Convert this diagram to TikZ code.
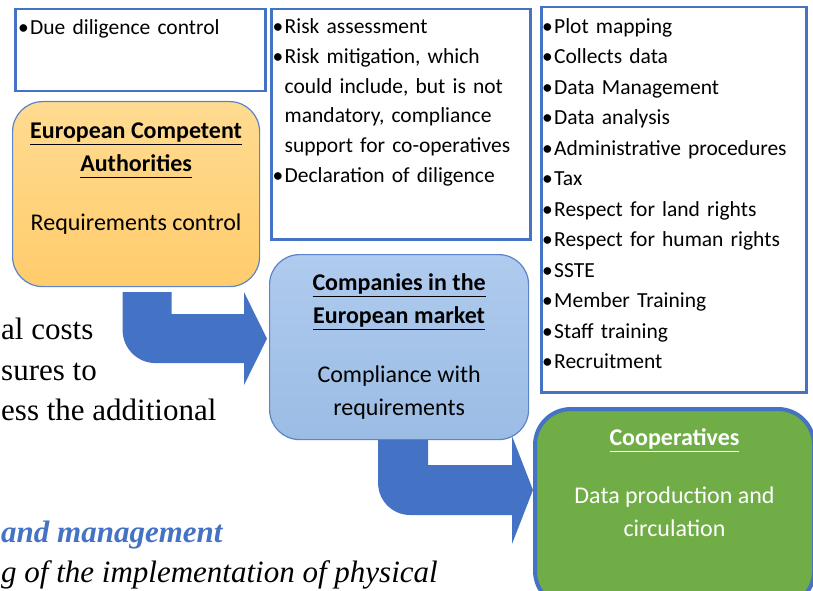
\documentclass[tikz,border=0pt]{standalone}
\usepackage{fontspec}
\setmainfont{Carlito}
\newfontfamily\bgfont{Liberation Serif}
\usepackage{tikz}
\usetikzlibrary{calc,positioning,backgrounds}
\definecolor{accblue}{HTML}{4472C4}
\definecolor{edgeblue}{HTML}{5B85C8}
\definecolor{goldtop}{HTML}{FFDB91}
\definecolor{goldbot}{HTML}{FFCC6C}
\definecolor{skytop}{HTML}{AFCBEE}
\definecolor{skybot}{HTML}{9BBCE4}
\definecolor{leafgreen}{HTML}{70AD47}
\newcommand{\bitem}[1]{\par\hangindent=12pt\hangafter=1\noindent\strut\makebox[12pt][l]{\textbullet}#1}
\newcommand{\uhead}[1]{\setbox0\hbox{\textbf{#1}}\rlap{\rule[-7pt]{\wd0}{1.7pt}}\box0}
% bent block arrow: shaft top, tip, half shaft, half head, head length, corner
\newcommand{\bentarrow}[6]{%
 \fill[bigarrow] let \p1=(#1), \p2=(#2) in
  (\x1-#3pt,\y1) -- (\x1-#3pt,\y2-#3pt+#6pt)
  .. controls (\x1-#3pt,\y2-#3pt+0.448*#6pt) and (\x1-#3pt+0.448*#6pt,\y2-#3pt) .. (\x1-#3pt+#6pt,\y2-#3pt)
  -- (\x2-#5pt,\y2-#3pt) -- (\x2-#5pt,\y2-#4pt) -- (\x2,\y2) -- (\x2-#5pt,\y2+#4pt)
  -- (\x2-#5pt,\y2+#3pt) -- (\x1+#3pt,\y2+#3pt) -- (\x1+#3pt,\y1) -- cycle;}
\begin{document}
\begin{tikzpicture}[x=1pt,y=-1pt,
listbox/.style={draw=accblue,line width=2.5pt,anchor=north west,inner sep=0pt},
roundbox/.style={rounded corners=30pt,anchor=north west,inner sep=0pt},
listtext/.style={anchor=north west,inner sep=0pt,align=left,font=\fontsize{21.5}{30.5}\selectfont},
boxtext/.style={anchor=north,inner sep=0pt,align=center,font=\fontsize{24}{33}\selectfont},
bgtext/.style={inner sep=0pt,anchor=base west,font=\bgfont\fontsize{31}{41}\selectfont},
bigarrow/.style={fill=accblue}]
 \useasboundingbox (0,0) rectangle (813,591);
 % text of the page behind
 \foreach \t/\y [count=\i] in {al costs/339,sures to/380,ess the additional/420}
  \node[bgtext] (bg\i) at (1,\y) {\t};
 \node[bgtext,text=accblue,font=\bgfont\fontsize{31}{41}\selectfont\bfseries\itshape] (bg4) at (1,542) {and management};
 \node[bgtext,font=\bgfont\fontsize{31}{41}\selectfont\itshape] (bg5) at (1,582) {g of the implementation of physical};
 % lists
 \node[listbox,minimum width=250pt,minimum height=82pt] (dd) at (14,8) {};
 \node[listbox,minimum width=259pt,minimum height=230pt] (ra) at (270,8) {};
 \node[listbox,minimum width=265pt,minimum height=385pt] (tasks) at (540,6) {};
 \node[listtext,text width=240pt] (ddt) at ($(dd.north west)+(4,-4)$) {\bitem{Due diligence control}};
 \node[listtext,text width=250pt,font=\fontsize{21.5}{29.8}\selectfont] (rat) at ($(ra.north west)+(2.5,-4.5)$) {\bitem{Risk assessment}
  \bitem{Risk mitigation, which\break could include, but is not\break mandatory, compliance\break support for co-operatives}
  \bitem{Declaration of diligence}};
 \node[listtext,text width=255pt] (taskst) at ($(tasks.north west)+(2,-3.5)$) {\bitem{Plot mapping}
  \bitem{Collects data}\bitem{Data Management}\bitem{Data analysis}
  \bitem{Administrative procedures}\bitem{Tax}\bitem{Respect for land rights}
  \bitem{Respect for human rights}\bitem{SSTE}\bitem{Member Training}
  \bitem{Staff training}\bitem{Recruitment}};
 % actors
 \node[roundbox,draw=edgeblue,line width=1.2pt,top color=goldtop,bottom color=goldbot,minimum width=247pt,minimum height=185pt] (eu) at (12,101) {};
 \node[roundbox,draw=edgeblue,line width=1.2pt,top color=skytop,bottom color=skybot,minimum width=259pt,minimum height=185pt] (co) at (269,254) {};
 \node[roundbox,rounded corners=36pt,draw=accblue,line width=4pt,fill=leafgreen,minimum width=279pt,minimum height=198pt] (coop) at (533,407) {};
 \node[boxtext] (eut) at ($(eu.north)+(0,13.9)$) {\strut\uhead{European Competent}\\\uhead{Authorities}\\[26pt]Requirements control};
 \node[boxtext] (cot) at ($(co.north)+(0,12.9)$) {\strut\uhead{Companies in the}\\\uhead{European market}\\[26pt]Compliance with\\requirements};
 \node[boxtext,text=white] (coopt) at ($(coop.north)+(0,14.9)$) {\strut\uhead{Cooperatives}\\[25pt]Data production and\\circulation};
 \begin{scope}[on background layer]
  \bentarrow{$(eu.south)+(11,5)$}{$(co.west)+(-2,-8.5)$}{24.5}{46.5}{23}{33}
  \bentarrow{$(co.south)+(4,-9)$}{$(coop.west)+(0,-18)$}{25}{54}{21}{32}
 \end{scope}
\end{tikzpicture}
\end{document}
